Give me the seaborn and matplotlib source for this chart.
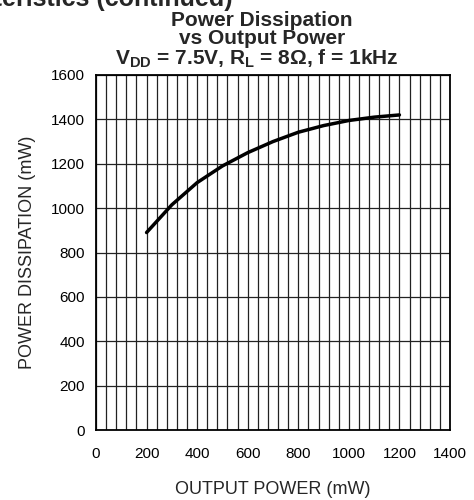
import matplotlib
matplotlib.use("Agg")
import matplotlib.pyplot as plt
import numpy as np
import pandas as pd
import seaborn as sns

# curve
output_power = [200, 300, 400, 500, 600, 700, 800, 900, 1000, 1100, 1200]
dissipation = [890, 1015, 1115, 1190, 1250, 1300, 1342, 1372, 1395, 1410, 1420]

x_ticks = [0, 200, 400, 600, 800, 1000, 1200, 1400]
y_ticks = [0, 200, 400, 600, 800, 1000, 1200, 1400, 1600]

sns.set_style("white")
plt.rcParams['font.family'] = ['Liberation Sans', 'DejaVu Sans']
plt.rcParams['mathtext.fontset'] = 'custom'
plt.rcParams['mathtext.rm'] = 'Liberation Sans:bold'
plt.rcParams['mathtext.bf'] = 'Liberation Sans:bold'

df = pd.DataFrame({"po": output_power, "pd": dissipation})

fig = plt.figure(figsize=(4.74, 5.0), dpi=100)
ax = fig.add_axes([96 / 474, 1 - 430 / 500, 354 / 474, 355 / 500])

# grid: minor verticals every 40 mW, horizontals every 200 mW
ax.set_xticks(np.arange(0, 1401, 40), minor=True)
ax.set_xticks(x_ticks)
ax.set_yticks(y_ticks)
ax.grid(True, which='both', axis='x', color='#222222', linewidth=0.9)
ax.grid(True, which='major', axis='y', color='#222222', linewidth=0.9)
ax.set_axisbelow(True)

sns.lineplot(data=df, x="po", y="pd", ax=ax, color='black', linewidth=2.5)

ax.set_xlim(0, 1400)
ax.set_ylim(0, 1600)
ax.tick_params(which='both', length=0, labelsize=11, colors='black')
ax.tick_params(axis='x', pad=12)
ax.tick_params(axis='y', pad=8)
for s in ax.spines.values():
    s.set_color('black')
    s.set_linewidth(1.3)

ax.set_xlabel("OUTPUT POWER (mW)", fontsize=13, labelpad=15)
ax.set_ylabel("POWER DISSIPATION (mW)", fontsize=13, labelpad=11)

# clipped header from the page above
fig.text(233 / 474, 1 - 6 / 500, "Typical Performance Characteristics (continued)",
         ha='right', va='baseline', fontsize=18, fontweight='bold')

cx = 262 / 474
fig.text(cx, 1 - 26 / 500, "Power Dissipation", ha='center', va='baseline',
         fontsize=15, fontweight='bold')
fig.text(cx, 1 - 44 / 500, "vs Output Power", ha='center', va='baseline',
         fontsize=15, fontweight='bold')
fig.text(cx - 5 / 474, 1 - 64 / 500, r"V$_{\mathbf{DD}}$ = 7.5V, R$_{\mathbf{L}}$ = 8Ω, f = 1kHz",
         ha='center', va='baseline', fontsize=15, fontweight='bold')

fig.savefig("out.png", dpi=100)
